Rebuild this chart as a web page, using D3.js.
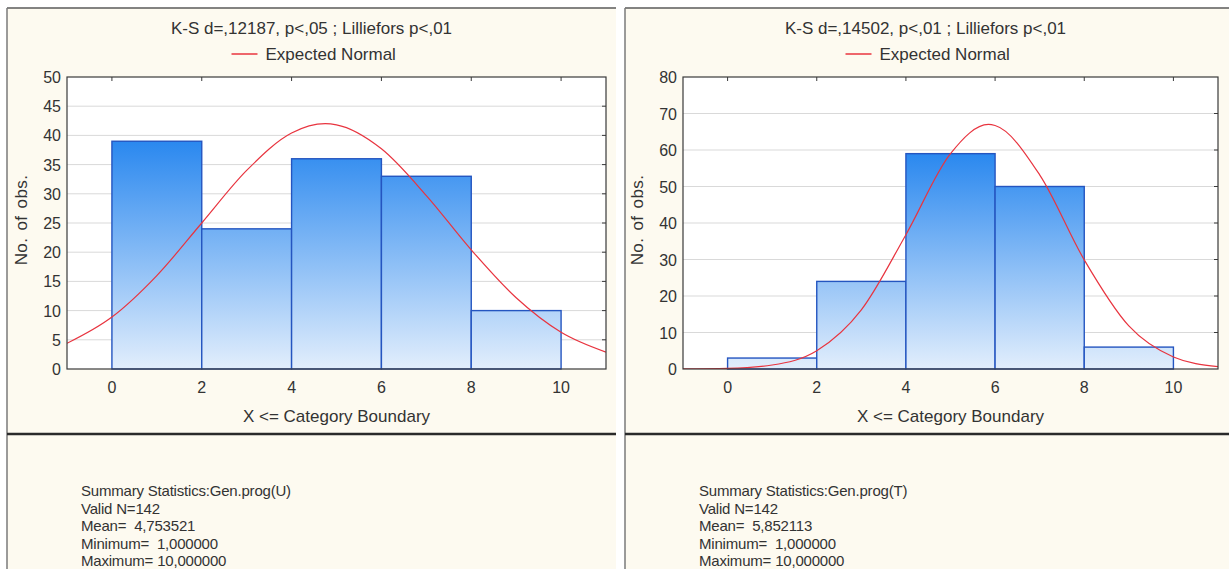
<!DOCTYPE html>
<html lang="en">
<head>
    <meta charset="UTF-8">
    <script src="https://d3js.org/d3.v7.min.js"></script>
    <title>Histograms</title>
    <style>
        body { margin: 0; background: #ffffff; }
        svg { display: block; font-family: "Liberation Sans", Arial, sans-serif; }
    </style>
</head>
<body>
    <script>
        // bin boundaries and counts
        var binEdges = [0, 2, 4, 6, 8, 10];
        var countsU = [39, 24, 36, 33, 10];
        var countsT = [3, 24, 59, 50, 6];

        var xTicks = [0, 2, 4, 6, 8, 10];
        var yTicksU = [0, 5, 10, 15, 20, 25, 30, 35, 40, 45, 50];
        var yTicksT = [0, 10, 20, 30, 40, 50, 60, 70, 80];

        var normalUx = [-1, 0, 1, 2, 3, 4, 4.75, 5, 6, 7, 8, 9, 10, 11];
        var normalUy = [4.4, 8.9, 16.0, 25.0, 34.0, 40.4, 42, 41.8, 37.7, 29.7, 20.4, 12.2, 6.3, 2.9];
        var normalTx = [-1, 0, 1, 2, 3, 4, 5, 5.85, 6, 7, 8, 9, 10, 11];
        var normalTy = [0.02, 0.17, 1.1, 5.0, 16.2, 36.8, 59.0, 67, 66.7, 53.2, 29.9, 11.8, 3.3, 0.65];

        var titles = ["K-S d=,12187, p<,05 ; Lilliefors p<,01", "K-S d=,14502, p<,01 ; Lilliefors p<,01"];
        var summaryU = ["Summary Statistics:Gen.prog(U)", "Valid N=142", "Mean=  4,753521", "Minimum=  1,000000", "Maximum= 10,000000"];
        var summaryT = ["Summary Statistics:Gen.prog(T)", "Valid N=142", "Mean=  5,852113", "Minimum=  1,000000", "Maximum= 10,000000"];

        var svg = d3.select("body").append("svg")
            .attr("width", 1229)
            .attr("height", 569);

        var defs = svg.append("defs");

        function drawPanel(opt) {
            var g = svg.append("g").attr("transform", "translate(" + opt.left + ",0)");
            var pw = opt.width;

            // panel background and border
            g.append("rect").attr("x", 0).attr("y", 8).attr("width", pw).attr("height", 561)
                .attr("fill", "#fdfaf0");
            g.append("line").attr("x1", 0).attr("x2", pw).attr("y1", 8).attr("y2", 8)
                .attr("stroke", "#5a5a5a").attr("stroke-width", 1.5);
            g.append("line").attr("x1", 0).attr("x2", 0).attr("y1", 8).attr("y2", 569)
                .attr("stroke", "#7a7a7a").attr("stroke-width", 1.5);
            g.append("line").attr("x1", 0).attr("x2", pw).attr("y1", 434).attr("y2", 434)
                .attr("stroke", "#2a2a2a").attr("stroke-width", 2.5);

            var x = d3.scaleLinear().domain([-1, 11]).range([opt.plotL, opt.plotR]);
            var y = d3.scaleLinear().domain([0, opt.yMax]).range([369, 77]);

            // plot area
            g.append("rect").attr("x", opt.plotL).attr("y", 77)
                .attr("width", opt.plotR - opt.plotL).attr("height", 292)
                .attr("fill", "#ffffff");

            g.append("g").selectAll("line").data(opt.yTicks.slice(1, -1)).join("line")
                .attr("x1", opt.plotL).attr("x2", opt.plotR)
                .attr("y1", function (d) { return y(d); })
                .attr("y2", function (d) { return y(d); })
                .attr("stroke", "#d9d9d9").attr("stroke-width", 1);

            // bars
            var gid = "grad" + opt.key;
            var grad = defs.append("linearGradient").attr("id", gid)
                .attr("gradientUnits", "userSpaceOnUse")
                .attr("x1", 0).attr("x2", 0)
                .attr("y1", y(d3.max(opt.counts))).attr("y2", y(0));
            grad.append("stop").attr("offset", "0%").attr("stop-color", "#2a88ef");
            grad.append("stop").attr("offset", "100%").attr("stop-color", "#e2eefc");

            g.append("g").selectAll("rect").data(opt.counts).join("rect")
                .attr("x", function (d, i) { return x(binEdges[i]); })
                .attr("width", function (d, i) { return x(binEdges[i + 1]) - x(binEdges[i]); })
                .attr("y", function (d) { return y(d); })
                .attr("height", function (d) { return y(0) - y(d); })
                .attr("fill", "url(#" + gid + ")")
                .attr("stroke", "#2455c0").attr("stroke-width", 1.4);

            // expected normal
            var cid = "clip" + opt.key;
            defs.append("clipPath").attr("id", cid).append("rect")
                .attr("x", opt.plotL).attr("y", 77)
                .attr("width", opt.plotR - opt.plotL).attr("height", 292);
            var line = d3.line()
                .x(function (d) { return x(d[0]); })
                .y(function (d) { return y(d[1]); })
                .curve(d3.curveMonotoneX);
            g.append("path")
                .datum(d3.zip(opt.curveX, opt.curveY))
                .attr("clip-path", "url(#" + cid + ")")
                .attr("d", line)
                .attr("fill", "none").attr("stroke", "#e8343f").attr("stroke-width", 1.2);

            // frame
            g.append("rect").attr("x", opt.plotL).attr("y", 77)
                .attr("width", opt.plotR - opt.plotL).attr("height", 292)
                .attr("fill", "none").attr("stroke", "#3a3a3a").attr("stroke-width", 1.2);

            // inner ticks on top and right
            g.append("g").selectAll("line").data(xTicks).join("line")
                .attr("x1", function (d) { return x(d); }).attr("x2", function (d) { return x(d); })
                .attr("y1", 77).attr("y2", 81)
                .attr("stroke", "#3a3a3a");
            g.append("g").selectAll("line").data(opt.yTicks.slice(1, -1)).join("line")
                .attr("x1", opt.plotR - 4).attr("x2", opt.plotR)
                .attr("y1", function (d) { return y(d); }).attr("y2", function (d) { return y(d); })
                .attr("stroke", "#3a3a3a");

            // axes labels
            g.append("g").selectAll("text").data(opt.yTicks).join("text")
                .attr("x", opt.plotL - 6)
                .attr("y", function (d) { return y(d) + 6; })
                .attr("text-anchor", "end")
                .attr("font-size", 16).attr("fill", "#333")
                .text(function (d) { return d; });
            g.append("g").selectAll("text").data(xTicks).join("text")
                .attr("x", function (d) { return x(d); })
                .attr("y", 393)
                .attr("text-anchor", "middle")
                .attr("font-size", 16).attr("fill", "#333")
                .text(function (d) { return d; });

            g.append("text")
                .attr("transform", "translate(" + (opt.plotL - 40) + ",220) rotate(-90)")
                .attr("text-anchor", "middle")
                .attr("font-size", 17).attr("fill", "#333")
                .attr("letter-spacing", 0.4)
                .attr("word-spacing", 2)
                .text("No. of obs.");
            g.append("text")
                .attr("x", (opt.plotL + opt.plotR) / 2).attr("y", 422)
                .attr("text-anchor", "middle")
                .attr("font-size", 17).attr("fill", "#333")
                .text("X <= Category Boundary");

            // title and legend
            var cx = (opt.plotL + opt.plotR) / 2;
            g.append("text")
                .attr("x", cx - 25).attr("y", 34)
                .attr("text-anchor", "middle")
                .attr("font-size", 17).attr("fill", "#333")
                .text(opt.title);
            g.append("line")
                .attr("x1", cx - 105).attr("x2", cx - 79).attr("y1", 54).attr("y2", 54)
                .attr("stroke", "#e8343f").attr("stroke-width", 1.5);
            g.append("text")
                .attr("x", cx - 71).attr("y", 60)
                .attr("font-size", 17).attr("fill", "#333")
                .text("Expected Normal");

            // summary statistics
            g.append("g").selectAll("text").data(opt.summary).join("text")
                .attr("x", 74)
                .attr("y", function (d, i) { return 496 + i * 17.5; })
                .attr("font-size", 15).attr("fill", "#333")
                .attr("letter-spacing", -0.2)
                .style("white-space", "pre")
                .text(function (d) { return d; });
        }

        drawPanel({
            key: "U", left: 7, width: 609, plotL: 60, plotR: 599,
            yMax: 50, yTicks: yTicksU, counts: countsU,
            curveX: normalUx, curveY: normalUy, title: titles[0], summary: summaryU
        });
        drawPanel({
            key: "T", left: 625, width: 604, plotL: 58, plotR: 593,
            yMax: 80, yTicks: yTicksT, counts: countsT,
            curveX: normalTx, curveY: normalTy, title: titles[1], summary: summaryT
        });
    </script>
</body>
</html>
